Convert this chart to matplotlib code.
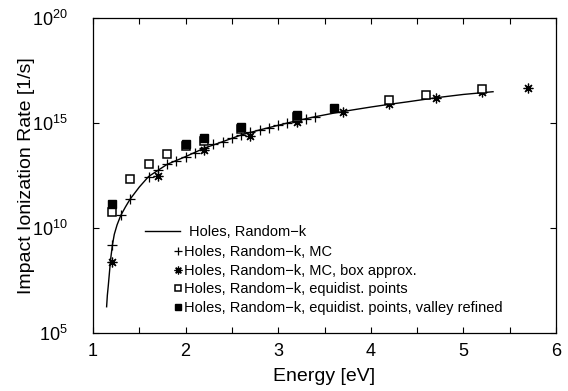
import numpy as np
import matplotlib
matplotlib.use("Agg")
import matplotlib.pyplot as plt
from matplotlib.ticker import LogFormatterSciNotation, MultipleLocator, NullLocator, FixedLocator

plt.rcParams['font.family'] = ['Liberation Sans', 'DejaVu Sans']
plt.rcParams['mathtext.fontset'] = 'custom'
plt.rcParams['mathtext.rm'] = 'Liberation Sans'
plt.rcParams['mathtext.it'] = 'Liberation Sans:italic'
plt.rcParams['mathtext.default'] = 'regular'

# ---- data (rates stored as log10 of the rate in 1/s) ----
curve_energy = [1.147, 1.155, 1.165, 1.175, 1.19, 1.21, 1.23, 1.26, 1.30, 1.35, 1.40,
                1.50, 1.60, 1.80, 2.00, 2.20, 2.40, 2.60, 2.80, 3.00, 3.20, 3.40,
                3.60, 3.80, 4.00, 4.20, 4.40, 4.70, 5.00, 5.32]
curve_log_rate = [6.25, 6.8, 7.25, 7.75, 8.5, 9.2, 9.7, 10.15, 10.6, 11.0, 11.37,
                  11.95, 12.45, 13.03, 13.40, 13.80, 14.11, 14.43, 14.67, 14.89, 15.11, 15.30,
                  15.47, 15.62, 15.76, 15.89, 16.01, 16.20, 16.36, 16.49]

mc_energy = [1.2, 1.3, 1.4, 1.6, 1.7, 1.8, 1.9, 2.0, 2.1, 2.2, 2.3, 2.4, 2.5,
             2.6, 2.7, 2.8, 2.9, 3.0, 3.1, 3.2, 3.3, 3.4]
mc_log_rate = [9.19, 10.62, 11.37, 12.45, 12.76, 13.03, 13.19, 13.40, 13.56, 13.80, 13.98,
               14.11, 14.27, 14.43, 14.56, 14.67, 14.78, 14.89, 14.98, 15.11, 15.20, 15.30]

box_energy = [1.2, 1.7, 2.2, 2.7, 3.2, 3.7, 4.2, 4.7, 5.2, 5.7]
box_log_rate = [8.37, 12.49, 13.71, 14.38, 15.06, 15.51, 15.90, 16.20, 16.46, 16.65]

equi_energy = [1.2, 1.4, 1.6, 1.8, 2.0, 2.2, 2.6, 3.2, 4.2, 4.6, 5.2]
equi_log_rate = [10.78, 12.32, 13.07, 13.54, 13.90, 14.15, 14.70, 15.28, 16.10, 16.34, 16.62]

valley_energy = [1.2, 2.0, 2.2, 2.6, 3.2, 3.6]
valley_log_rate = [11.14, 14.02, 14.30, 14.81, 15.37, 15.70]

labels = ["Holes, Random\u2212k",
          "Holes, Random\u2212k, MC",
          "Holes, Random\u2212k, MC, box approx.",
          "Holes, Random\u2212k, equidist. points",
          "Holes, Random\u2212k, equidist. points, valley refined"]

x_ticks = [1, 2, 3, 4, 5, 6]
y_ticks = [1e5, 1e10, 1e15, 1e20]

W, H = 568, 391
fig = plt.figure(figsize=(W / 100, H / 100), dpi=100)
ax = fig.add_axes([93 / W, 1 - 333 / H, (556 - 93) / W, (333 - 18) / H])

to_rate = lambda v: 10.0 ** np.asarray(v)

l0, = ax.plot(curve_energy, to_rate(curve_log_rate), color='black', lw=1.0, label=labels[0])
l1, = ax.plot(mc_energy, to_rate(mc_log_rate), ls='none', marker='+', ms=7.5, mew=0.9,
              color='black', label=labels[1])
l2, = ax.plot(box_energy, to_rate(box_log_rate), ls='none', marker=(8, 2, 0), ms=7, mew=0.9,
              color='black', label=labels[2])
l3, = ax.plot(equi_energy, to_rate(equi_log_rate), ls='none', marker='s', ms=5.3, mew=1.1,
              mfc='white', mec='black', label=labels[3])
l4, = ax.plot(valley_energy, to_rate(valley_log_rate), ls='none', marker='s', ms=5.3, mew=1.0,
              mfc='black', mec='black', label=labels[4])

ax.set_yscale('log')
ax.set_xlim(1, 6)
ax.set_ylim(1e5, 1e20)
ax.xaxis.set_major_locator(FixedLocator(x_ticks))
ax.xaxis.set_minor_locator(MultipleLocator(0.5))
ax.yaxis.set_major_locator(FixedLocator(y_ticks))
ax.yaxis.set_major_formatter(LogFormatterSciNotation())
ax.yaxis.set_minor_locator(NullLocator())

ax.tick_params(axis='both', which='both', direction='in', top=True, right=True,
               length=4, width=0.8, labelsize=13)
ax.tick_params(axis='x', which='major', pad=7)
ax.tick_params(axis='y', which='major', pad=18)
for s in ax.spines.values():
    s.set_linewidth(0.9)

ax.set_xlabel("Energy [eV]", fontsize=14, labelpad=6)
ax.set_ylabel("Impact Ionization Rate [1/s]", fontsize=14)
ax.yaxis.set_label_coords(-58 / 463, 0.5)

leg1 = ax.legend([l0], [labels[0]], loc='upper left', frameon=False, fontsize=10.5,
                 handlelength=2.4, handletextpad=0.6, borderpad=0, borderaxespad=0,
                 bbox_to_anchor=(145 / W, 1 - 225 / H), bbox_transform=fig.transFigure)
ax.add_artist(leg1)
ax.legend([l1, l2, l3, l4], labels[1:], loc='upper left', frameon=False, fontsize=10.5,
          handlelength=0.6, handletextpad=0.1, borderpad=0, borderaxespad=0, labelspacing=0.3,
          markerscale=0.8,
          bbox_to_anchor=(174 / W, 1 - 245.5 / H), bbox_transform=fig.transFigure)

fig.savefig("out.png", dpi=100)
